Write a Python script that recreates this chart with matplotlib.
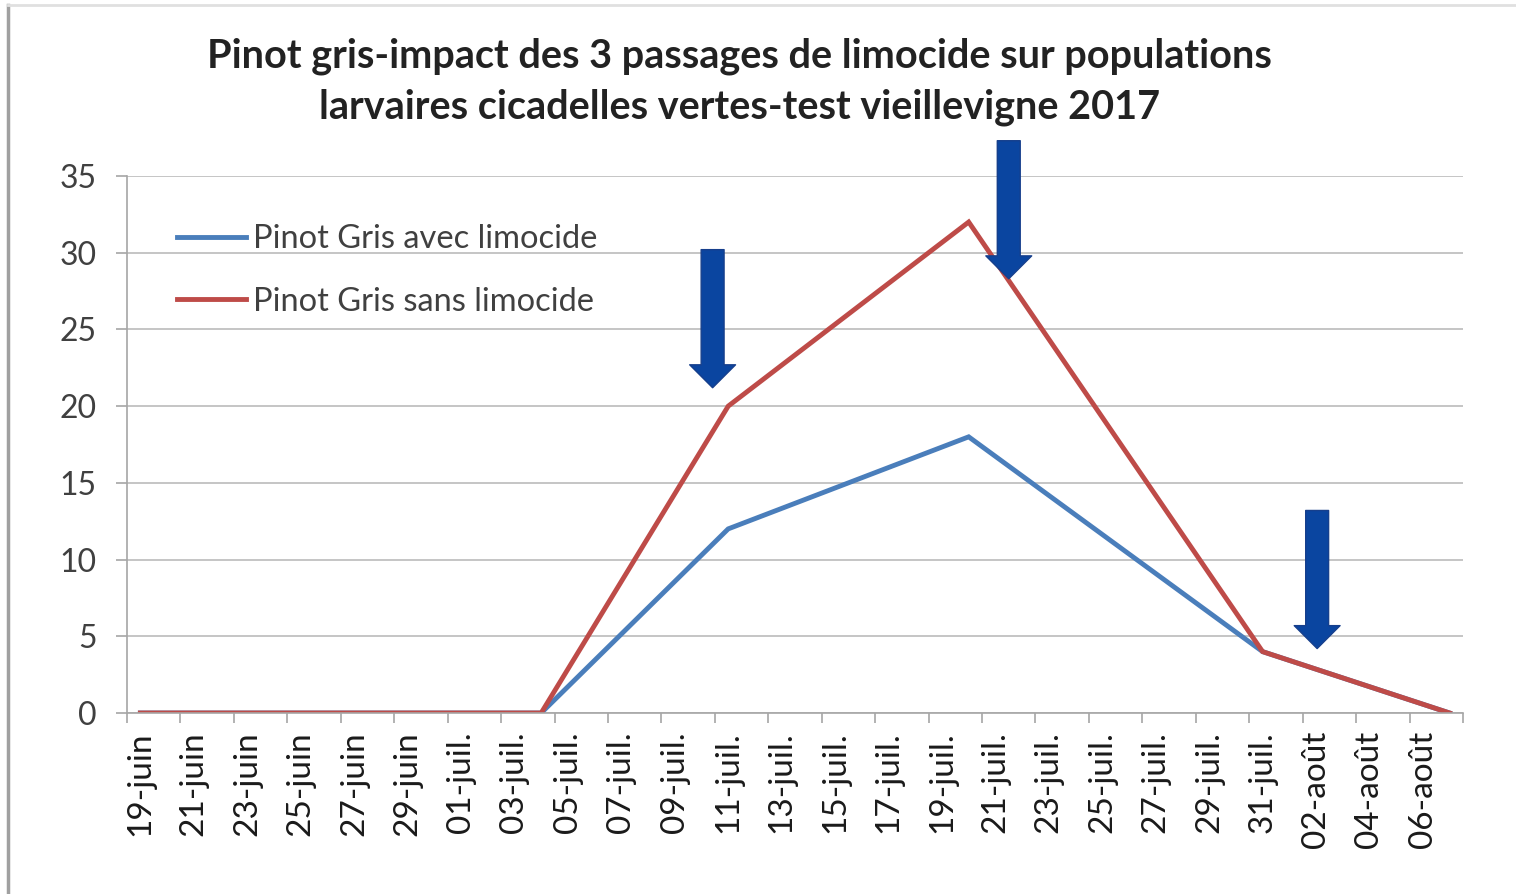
import matplotlib
matplotlib.use("Agg")
import matplotlib.pyplot as plt
import pandas as pd
from matplotlib.patches import FancyArrowPatch, ArrowStyle
from matplotlib.lines import Line2D

plt.rcParams['font.family'] = ['Lato', 'DejaVu Sans']

# --- data ---
dates = ["2017-06-19", "2017-07-04", "2017-07-11", "2017-07-20", "2017-07-31", "2017-08-07"]
avec_limocide = [0, 0, 12, 18, 4, 0]
sans_limocide = [0, 0, 20, 32, 4, 0]

tick_labels = ["19-juin", "21-juin", "23-juin", "25-juin", "27-juin", "29-juin",
               "01-juil.", "03-juil.", "05-juil.", "07-juil.", "09-juil.", "11-juil.",
               "13-juil.", "15-juil.", "17-juil.", "19-juil.", "21-juil.", "23-juil.",
               "25-juil.", "27-juil.", "29-juil.", "31-juil.", "02-août", "04-août", "06-août"]

# treatment passages (arrows): date, top, tip
arrow_dates = ["2017-07-10 10:00", "2017-07-21 12:00", "2017-08-02 01:00"]
arrow_top = [30.2, 37.3, 13.2]
arrow_tip = [21.2, 28.3, 4.2]

start = pd.Timestamp("2017-06-19")
x = [(pd.Timestamp(d) - start) / pd.Timedelta(days=1) for d in dates]
xa = [(pd.Timestamp(d) - start) / pd.Timedelta(days=1) for d in arrow_dates]

fig = plt.figure(figsize=(15.16, 8.94), dpi=100)
ax = fig.add_axes([127 / 1516, 1 - 713 / 894, (1463 - 127) / 1516, (713 - 176) / 894])

ax.plot(x, avec_limocide, color="#4a7ebb", lw=3.5, label="Pinot Gris avec limocide", solid_joinstyle="miter")
ax.plot(x, sans_limocide, color="#be4b48", lw=3.5, label="Pinot Gris sans limocide", solid_joinstyle="miter")

ax.set_xlim(-0.5, 49.5)
ax.set_ylim(0, 35)

### ticks ###
ax.set_yticks(range(0, 36, 5))
label_pos = list(range(0, 2 * len(tick_labels), 2))
ax.set_xticks(label_pos, tick_labels, rotation=90)
ax.set_xticks([p - 0.5 for p in label_pos] + [49.5], minor=True)
ax.tick_params(axis='x', which='major', length=0, pad=13, labelsize=24, labelcolor="#1a1a1a")
ax.tick_params(axis='x', which='minor', length=7, width=1.2, color="#a6a6a6", direction="out")
ax.tick_params(axis='y', length=8, width=1.2, color="#a6a6a6", pad=14, labelsize=23, labelcolor="#404040")

ax.grid(axis='y', color="#c0c0c0", lw=1.3)
ax.set_axisbelow(True)
for s in ["top", "right"]:
    ax.spines[s].set_visible(False)
for s in ["left", "bottom"]:
    ax.spines[s].set_color("#a6a6a6")
    ax.spines[s].set_linewidth(1.2)

### arrows ###
style = ArrowStyle.Simple(head_length=0.5, head_width=1.0, tail_width=0.5)
for xx, yt, yb in zip(xa, arrow_top, arrow_tip):
    arr = FancyArrowPatch((xx, yt), (xx, yb), arrowstyle=style, mutation_scale=33,
                          shrinkA=0, shrinkB=0, facecolor="#0a45a0", edgecolor="#163f8c",
                          lw=1, clip_on=False, zorder=5)
    ax.add_patch(arr)

leg = ax.legend(loc="upper left", bbox_to_anchor=(0.028, 0.935), frameon=False, fontsize=23.5,
                handlelength=2.1, handletextpad=0.2, labelspacing=1.0, borderaxespad=0)
for t in leg.get_texts():
    t.set_color("#404040")

fig.text(0.488, 1 - 82 / 894,
         "Pinot gris-impact des 3 passages de limocide sur populations\nlarvaires cicadelles vertes-test vieillevigne 2017",
         ha="center", va="center", fontsize=28.5, fontweight="bold", color="#222222", linespacing=1.45)

# chart frame
fig.add_artist(Line2D([8 / 1516, 8 / 1516], [0, 1 - 5 / 894], color="#a0a0a0", lw=2.5))
fig.add_artist(Line2D([8 / 1516, 1], [1 - 5 / 894, 1 - 5 / 894], color="#e0e0e0", lw=2))

fig.savefig("out.png", dpi=100)
